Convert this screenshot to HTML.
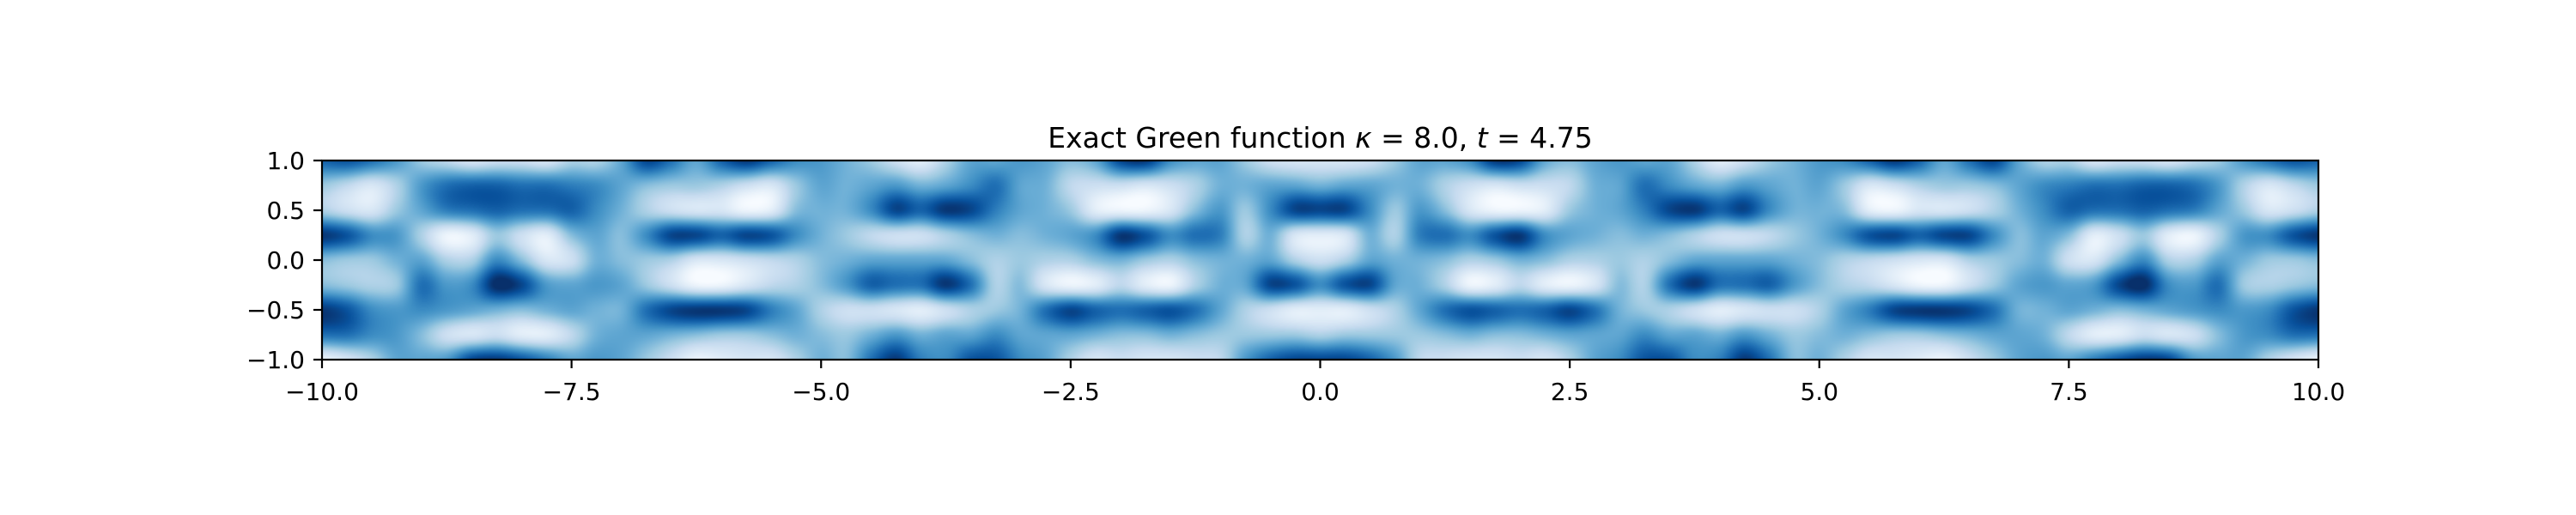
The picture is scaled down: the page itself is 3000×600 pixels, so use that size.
<!DOCTYPE html>
<html><head><meta charset="utf-8"><style>
html,body{margin:0;padding:0;background:#fff;}
#wrap{position:relative;width:3000px;height:600px;overflow:hidden;}
canvas{position:absolute;left:375px;top:187px;}
svg{position:absolute;left:0;top:0;}
text{font-family:"DejaVu Sans","Liberation Sans",sans-serif;fill:#000;}
</style></head><body>
<div id="wrap">
<canvas id="hm" width="2325" height="232"></canvas>
<svg id="ax" width="3000" height="600"></svg>
</div>
<script>
// right-half grid x = 0..10 step 0.25, mirrored to negative x; rows y = 1..-1 step 0.25
const xHalf = [0,0.25,0.5,0.75,1,1.25,1.5,1.75,2,2.25,2.5,2.75,3,3.25,3.5,3.75,4,4.25,4.5,4.75,5,5.25,5.5,5.75,6,6.25,6.5,6.75,7,7.25,7.5,7.75,8,8.25,8.5,8.75,9,9.25,9.5,9.75,10];
const yRows = [1,0.75,0.5,0.25,0,-0.25,-0.5,-0.75,-1];
const gridCols = [
[0.15,0.45,0.85,0.1,0.2,0.6,0.1,0.3,0.85],
[0.15,0.5,0.85,0.15,0.3,0.8,0.1,0.35,0.85],
[0.2,0.5,0.6,0.45,0.5,0.85,0.2,0.35,0.75],
[0.35,0.45,0.35,0.3,0.45,0.5,0.3,0.35,0.55],
[0.5,0.45,0.55,0.65,0.45,0.45,0.5,0.35,0.25],
[0.5,0.3,0.4,0.7,0.4,0.3,0.7,0.4,0.2],
[0.6,0.2,0.15,0.6,0.3,0.05,0.8,0.45,0.15],
[0.9,0.15,0.05,0.8,0.35,0.1,0.75,0.4,0.15],
[0.85,0.2,0.05,0.9,0.45,0.25,0.7,0.4,0.2],
[0.5,0.2,0.1,0.6,0.4,0.1,0.75,0.45,0.15],
[0.4,0.25,0.35,0.5,0.3,0.05,0.85,0.5,0.3],
[0.5,0.45,0.45,0.45,0.3,0.15,0.7,0.5,0.5],
[0.55,0.5,0.5,0.4,0.35,0.4,0.45,0.5,0.6],
[0.5,0.7,0.65,0.45,0.3,0.3,0.35,0.6,0.8],
[0.5,0.6,0.85,0.4,0.4,0.7,0.3,0.5,0.8],
[0.3,0.5,0.9,0.3,0.5,0.9,0.2,0.5,0.6],
[0.1,0.45,0.75,0.2,0.5,0.7,0.1,0.45,0.65],
[0.2,0.55,0.85,0.2,0.5,0.7,0.15,0.55,0.9],
[0.35,0.5,0.6,0.25,0.5,0.75,0.2,0.45,0.7],
[0.45,0.45,0.45,0.35,0.45,0.55,0.2,0.35,0.4],
[0.55,0.5,0.45,0.45,0.4,0.4,0.3,0.4,0.45],
[0.6,0.35,0.4,0.6,0.3,0.3,0.5,0.45,0.3],
[0.75,0.15,0.1,0.8,0.25,0.25,0.65,0.4,0.15],
[0.9,0.2,0.05,0.85,0.2,0.15,0.85,0.35,0.15],
[0.75,0.3,0.15,0.75,0.15,0.05,0.9,0.35,0.1],
[0.5,0.35,0.15,0.85,0.15,0.05,0.9,0.4,0.05],
[0.7,0.35,0.2,0.85,0.3,0.2,0.85,0.45,0.2],
[0.85,0.4,0.3,0.6,0.35,0.35,0.7,0.5,0.35],
[0.5,0.5,0.45,0.4,0.4,0.5,0.45,0.5,0.5],
[0.3,0.6,0.6,0.5,0.45,0.55,0.45,0.45,0.55],
[0.3,0.65,0.75,0.4,0.2,0.5,0.5,0.25,0.5],
[0.15,0.7,0.7,0.1,0.15,0.55,0.45,0.1,0.65],
[0.2,0.7,0.7,0.2,0.4,0.85,0.4,0.1,0.8],
[0.2,0.75,0.75,0.35,0.6,0.95,0.45,0.2,0.9],
[0.15,0.75,0.7,0.1,0.3,0.6,0.5,0.15,0.85],
[0.25,0.7,0.65,0.05,0.3,0.55,0.55,0.2,0.55],
[0.35,0.55,0.5,0.3,0.5,0.7,0.6,0.4,0.5],
[0.55,0.3,0.35,0.55,0.45,0.35,0.55,0.55,0.5],
[0.7,0.15,0.15,0.6,0.35,0.3,0.6,0.6,0.3],
[0.8,0.25,0.2,0.8,0.35,0.35,0.8,0.7,0.15],
[0.75,0.35,0.3,0.9,0.4,0.4,0.9,0.7,0.05]
];
const xTicks = [-10,-7.5,-5,-2.5,0,2.5,5,7.5,10];
const yTicks = [1,0.5,0,-0.5,-1];

const AX = {l:375, r:2700, t:187, b:419};
function sx(x){return AX.l + (x+10)/20*(AX.r-AX.l);}
function sy(y){return AX.t + (1-y)/2*(AX.b-AX.t);}

const blues = [[247,251,255],[222,235,247],[198,219,239],[158,202,225],[107,174,214],[66,146,198],[33,113,181],[8,81,156],[8,48,107]];
function cmap(v){v=Math.max(0,Math.min(1,v));const f=v*8,i=Math.min(7,Math.floor(f)),t=f-i;const a=blues[i],b=blues[i+1];return [a[0]+(b[0]-a[0])*t,a[1]+(b[1]-a[1])*t,a[2]+(b[2]-a[2])*t];}
const nX = xHalf.length, nFull = 2*nX-1, nY = yRows.length;
function G(i,j){i=Math.max(0,Math.min(nFull-1,i));j=Math.max(0,Math.min(nY-1,j));return gridCols[Math.abs(i-(nX-1))][j];}
function cr(p0,p1,p2,p3,t){return 0.5*(2*p1+(-p0+p2)*t+(2*p0-5*p1+4*p2-p3)*t*t+(-p0+3*p1-3*p2+p3)*t*t*t);}
(function(){
  const c=document.getElementById('hm'),ctx=c.getContext('2d'),W=c.width,H=c.height;
  const img=ctx.createImageData(W,H);
  const step = xHalf[1]-xHalf[0];
  for(let py=0;py<H;py++){
    const y=1-(py+0.5)/H*2; const gy=(yRows[0]-y)/(yRows[0]-yRows[1]); const j=Math.floor(gy), ty=gy-j;
    for(let px=0;px<W;px++){
      const x=-10+(px+0.5)/W*20; const gx=(x+xHalf[nX-1])/step; const i=Math.floor(gx), tx=gx-i;
      const r=[];
      for(let k=-1;k<=2;k++) r.push(cr(G(i-1,j+k),G(i,j+k),G(i+1,j+k),G(i+2,j+k),tx));
      const v=cr(r[0],r[1],r[2],r[3],ty)*1.08;
      const col=cmap(v); const o=(py*W+px)*4;
      img.data[o]=col[0];img.data[o+1]=col[1];img.data[o+2]=col[2];img.data[o+3]=255;
    }
  }
  ctx.putImageData(img,0,0);
})();
(function(){
  const svg=document.getElementById('ax'),NS='http://www.w3.org/2000/svg';
  function el(tag,attrs){const e=document.createElementNS(NS,tag);for(const k in attrs)e.setAttribute(k,attrs[k]);svg.appendChild(e);return e;}
  const fr=el('rect',{x:AX.l,y:AX.t,width:AX.r-AX.l,height:AX.b-AX.t,fill:'none',stroke:'#000','stroke-width':2.2});
  
  
  const fmt=v=>(v<0?'\u2212':'')+Math.abs(v).toFixed(1);
  xTicks.forEach(v=>{
    const x=sx(v);
    const tk=el('line',{x1:x,x2:x,y1:AX.b,y2:AX.b+10,stroke:'#000','stroke-width':2.2});
    
    
    const t=el('text',{x:x,y:AX.b+47,'font-size':28,'text-anchor':'middle'});
    t.textContent=fmt(v);
    
    
  });
  yTicks.forEach(v=>{
    const y=sy(v);
    const tk=el('line',{x1:AX.l-10,x2:AX.l,y1:y,y2:y,stroke:'#000','stroke-width':2.2});
    
    
    const t=el('text',{x:AX.l-20,y:y+10,'font-size':28,'text-anchor':'end'});
    t.textContent=fmt(v);
    
    
  });
  const ti=el('text',{x:(AX.l+AX.r)/2,y:172,'font-size':33,'text-anchor':'middle'});
  ti.innerHTML='Exact Green function <tspan font-style="italic">κ</tspan> = 8.0, <tspan font-style="italic">t</tspan> = 4.75';
  
  
})();
</script>
</body></html>
